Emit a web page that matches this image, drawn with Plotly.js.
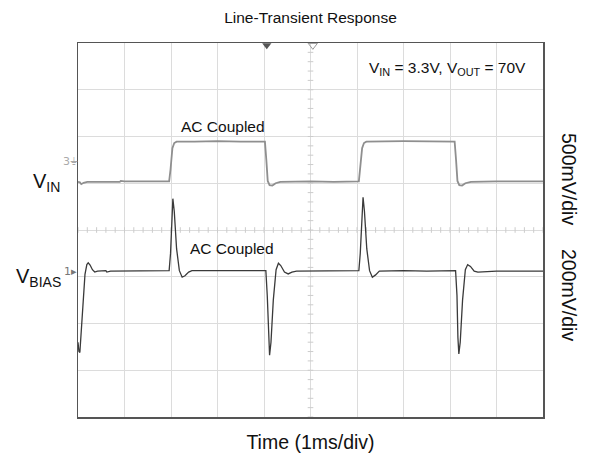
<!DOCTYPE html>
<html>
<head>
<meta charset="utf-8">
<script src="https://cdn.plot.ly/plotly-3.0.1.min.js"></script>
<style>html,body{margin:0;padding:0;background:#fff;}#chart{width:589px;height:464px;}</style>
</head>
<body>
<div id="chart"></div>
<script>
// Time in divisions (1 ms/div), vertical position in screen divisions (0 = bottom, 8 = top)
const vinTime = [0.00,0.04,0.07,0.12,0.20,0.90,0.92,1.00,1.50,1.96,1.99,2.03,2.07,2.12,2.50,3.00,3.50,4.02,4.05,4.08,4.12,4.18,4.25,4.35,5.00,5.50,6.04,6.07,6.11,6.15,6.20,7.00,7.60,8.10,8.13,8.16,8.20,8.26,8.33,8.45,9.00,9.50,10.00];
const vinLevel = [5.03,5.02,4.98,5.01,5.03,5.03,5.05,5.04,5.04,5.04,5.30,5.75,5.86,5.89,5.89,5.90,5.89,5.89,5.50,5.05,4.96,4.95,5.00,5.03,5.04,5.03,5.04,5.30,5.75,5.86,5.89,5.90,5.89,5.89,5.50,5.05,4.96,4.95,5.00,5.03,5.04,5.04,5.04];

const biasTime = [0.00,0.02,0.04,0.07,0.11,0.15,0.19,0.22,0.26,0.31,0.36,0.42,0.60,0.62,0.70,1.20,1.50,1.96,1.99,2.02,2.04,2.07,2.12,2.18,2.24,2.30,2.38,2.45,3.00,3.50,4.04,4.07,4.10,4.12,4.15,4.20,4.26,4.31,4.36,4.44,4.52,4.60,4.70,5.50,6.04,6.07,6.10,6.13,6.16,6.21,6.27,6.33,6.40,6.48,7.00,7.50,8.12,8.15,8.17,8.19,8.22,8.27,8.33,8.38,8.44,8.52,8.60,9.00,9.50,10.00];
const biasLevel = [1.60,1.40,1.38,1.90,2.60,3.05,3.26,3.30,3.25,3.15,3.10,3.12,3.13,3.10,3.12,3.13,3.13,3.13,3.50,4.30,4.67,4.40,3.60,3.13,2.99,3.02,3.10,3.13,3.13,3.12,3.13,2.60,1.70,1.32,1.60,2.50,3.15,3.29,3.24,3.10,3.06,3.10,3.12,3.13,3.13,3.50,4.30,4.70,4.40,3.60,3.13,2.99,3.04,3.12,3.13,3.12,3.13,2.60,1.70,1.35,1.60,2.50,3.15,3.26,3.22,3.12,3.10,3.12,3.12,3.12];

const xDivs = 10, yDivs = 8, minorPerDiv = 5;

// minor tick marks along the centre graticule lines
const hTickX = [], hTickY = [], vTickX = [], vTickY = [];
for (let i = 0; i <= xDivs * minorPerDiv; i++) { hTickX.push(i / minorPerDiv); hTickY.push(yDivs / 2); }
for (let i = 0; i <= yDivs * minorPerDiv; i++) { vTickY.push(i / minorPerDiv); vTickX.push(xDivs / 2); }

const FONT = 'Liberation Sans, Arial, Helvetica, sans-serif';

const traces = [
  {x: hTickX, y: hTickY, mode: 'markers', hoverinfo: 'skip', showlegend: false,
   marker: {symbol: 'line-ns', size: 4, line: {color: '#cccccc', width: 1}}},
  {x: vTickX, y: vTickY, mode: 'markers', hoverinfo: 'skip', showlegend: false,
   marker: {symbol: 'line-ew', size: 4, line: {color: '#cccccc', width: 1}}},
  {x: vinTime, y: vinLevel, mode: 'lines', name: 'VIN', showlegend: false,
   line: {color: '#8f8f8f', width: 1.8}},
  {x: biasTime, y: biasLevel, mode: 'lines', name: 'VBIAS', showlegend: false,
   line: {color: '#3a3a3a', width: 1.3}},
  {x: [4.06], y: [7.95], mode: 'markers', hoverinfo: 'skip', showlegend: false, cliponaxis: false,
   marker: {symbol: 'triangle-down', size: 8, color: '#555'}},
  {x: [5.05], y: [7.95], mode: 'markers', hoverinfo: 'skip', showlegend: false, cliponaxis: false,
   marker: {symbol: 'triangle-down-open', size: 8, color: '#999', line: {width: 1}}}
];

const layout = {
  width: 589, height: 464,
  margin: {l: 78, r: 46, t: 43, b: 47},
  paper_bgcolor: '#fff', plot_bgcolor: '#fff',
  font: {family: FONT, color: '#111'},
  title: {text: 'Line-Transient Response', font: {size: 15.5, family: FONT, color: '#111'},
          xref: 'paper', x: 0.5, yref: 'container', y: 1 - 18/464, yanchor: 'middle'},
  xaxis: {range: [0, xDivs], dtick: 1, tick0: 0, showticklabels: false, ticks: '',
          showgrid: true, gridcolor: '#dcdcdc', gridwidth: 1, zeroline: false,
          showline: true, mirror: true, linecolor: '#555', linewidth: 1.5,
          title: {text: 'Time (1ms/div)', font: {size: 19.5, family: FONT, color: '#111'}, standoff: 18}},
  yaxis: {range: [0, yDivs], dtick: 1, tick0: 0, showticklabels: false, ticks: '',
          showgrid: true, gridcolor: '#dcdcdc', gridwidth: 1, zeroline: false,
          showline: true, mirror: true, linecolor: '#555', linewidth: 1.5},
  annotations: [
    {text: 'V<sub>IN</sub> = 3.3V, V<sub>OUT</sub> = 70V', xref: 'paper', yref: 'paper',
     x: (447-78)/465, y: (417-68)/374, xanchor: 'center', yanchor: 'middle', showarrow: false,
     font: {size: 15.5, family: FONT, color: '#111'}},
    {text: 'AC Coupled', xref: 'paper', yref: 'paper', x: (223-78)/465, y: (417-126)/374,
     xanchor: 'center', yanchor: 'middle', showarrow: false, font: {size: 15.5, family: FONT, color: '#111'}},
    {text: 'AC Coupled', xref: 'paper', yref: 'paper', x: (232-78)/465, y: (417-248)/374,
     xanchor: 'center', yanchor: 'middle', showarrow: false, font: {size: 15.5, family: FONT, color: '#111'}},
    {text: 'V<sub>IN</sub>', xref: 'paper', yref: 'paper', x: (62-78)/465, y: (417-182)/374,
     xanchor: 'right', yanchor: 'middle', showarrow: false, font: {size: 20, family: FONT, color: '#111'}},
    {text: 'V<sub>BIAS</sub>', xref: 'paper', yref: 'paper', x: (63-78)/465, y: (417-277)/374,
     xanchor: 'right', yanchor: 'middle', showarrow: false, font: {size: 20, family: FONT, color: '#111'}},
    {text: '3⏚', xref: 'paper', yref: 'paper', x: (70-78)/465, y: (417-161)/374,
     xanchor: 'center', yanchor: 'middle', showarrow: false, font: {size: 11, family: 'DejaVu Sans', color: '#aaa'}},
    {text: '1▸', xref: 'paper', yref: 'paper', x: (70-78)/465, y: (417-271)/374,
     xanchor: 'center', yanchor: 'middle', showarrow: false, font: {size: 11, family: 'DejaVu Sans', color: '#777'}},
    {text: '500mV/div', xref: 'paper', yref: 'paper', x: (569-78)/465, y: (417-179)/374,
     xanchor: 'center', yanchor: 'middle', textangle: 90, showarrow: false, font: {size: 19.5, family: FONT, color: '#111'}},
    {text: '200mV/div', xref: 'paper', yref: 'paper', x: (569-78)/465, y: (417-295)/374,
     xanchor: 'center', yanchor: 'middle', textangle: 90, showarrow: false, font: {size: 19.5, family: FONT, color: '#111'}}
  ]
};

Plotly.newPlot('chart', traces, layout, {displayModeBar: false, staticPlot: true});
</script>
</body>
</html>
